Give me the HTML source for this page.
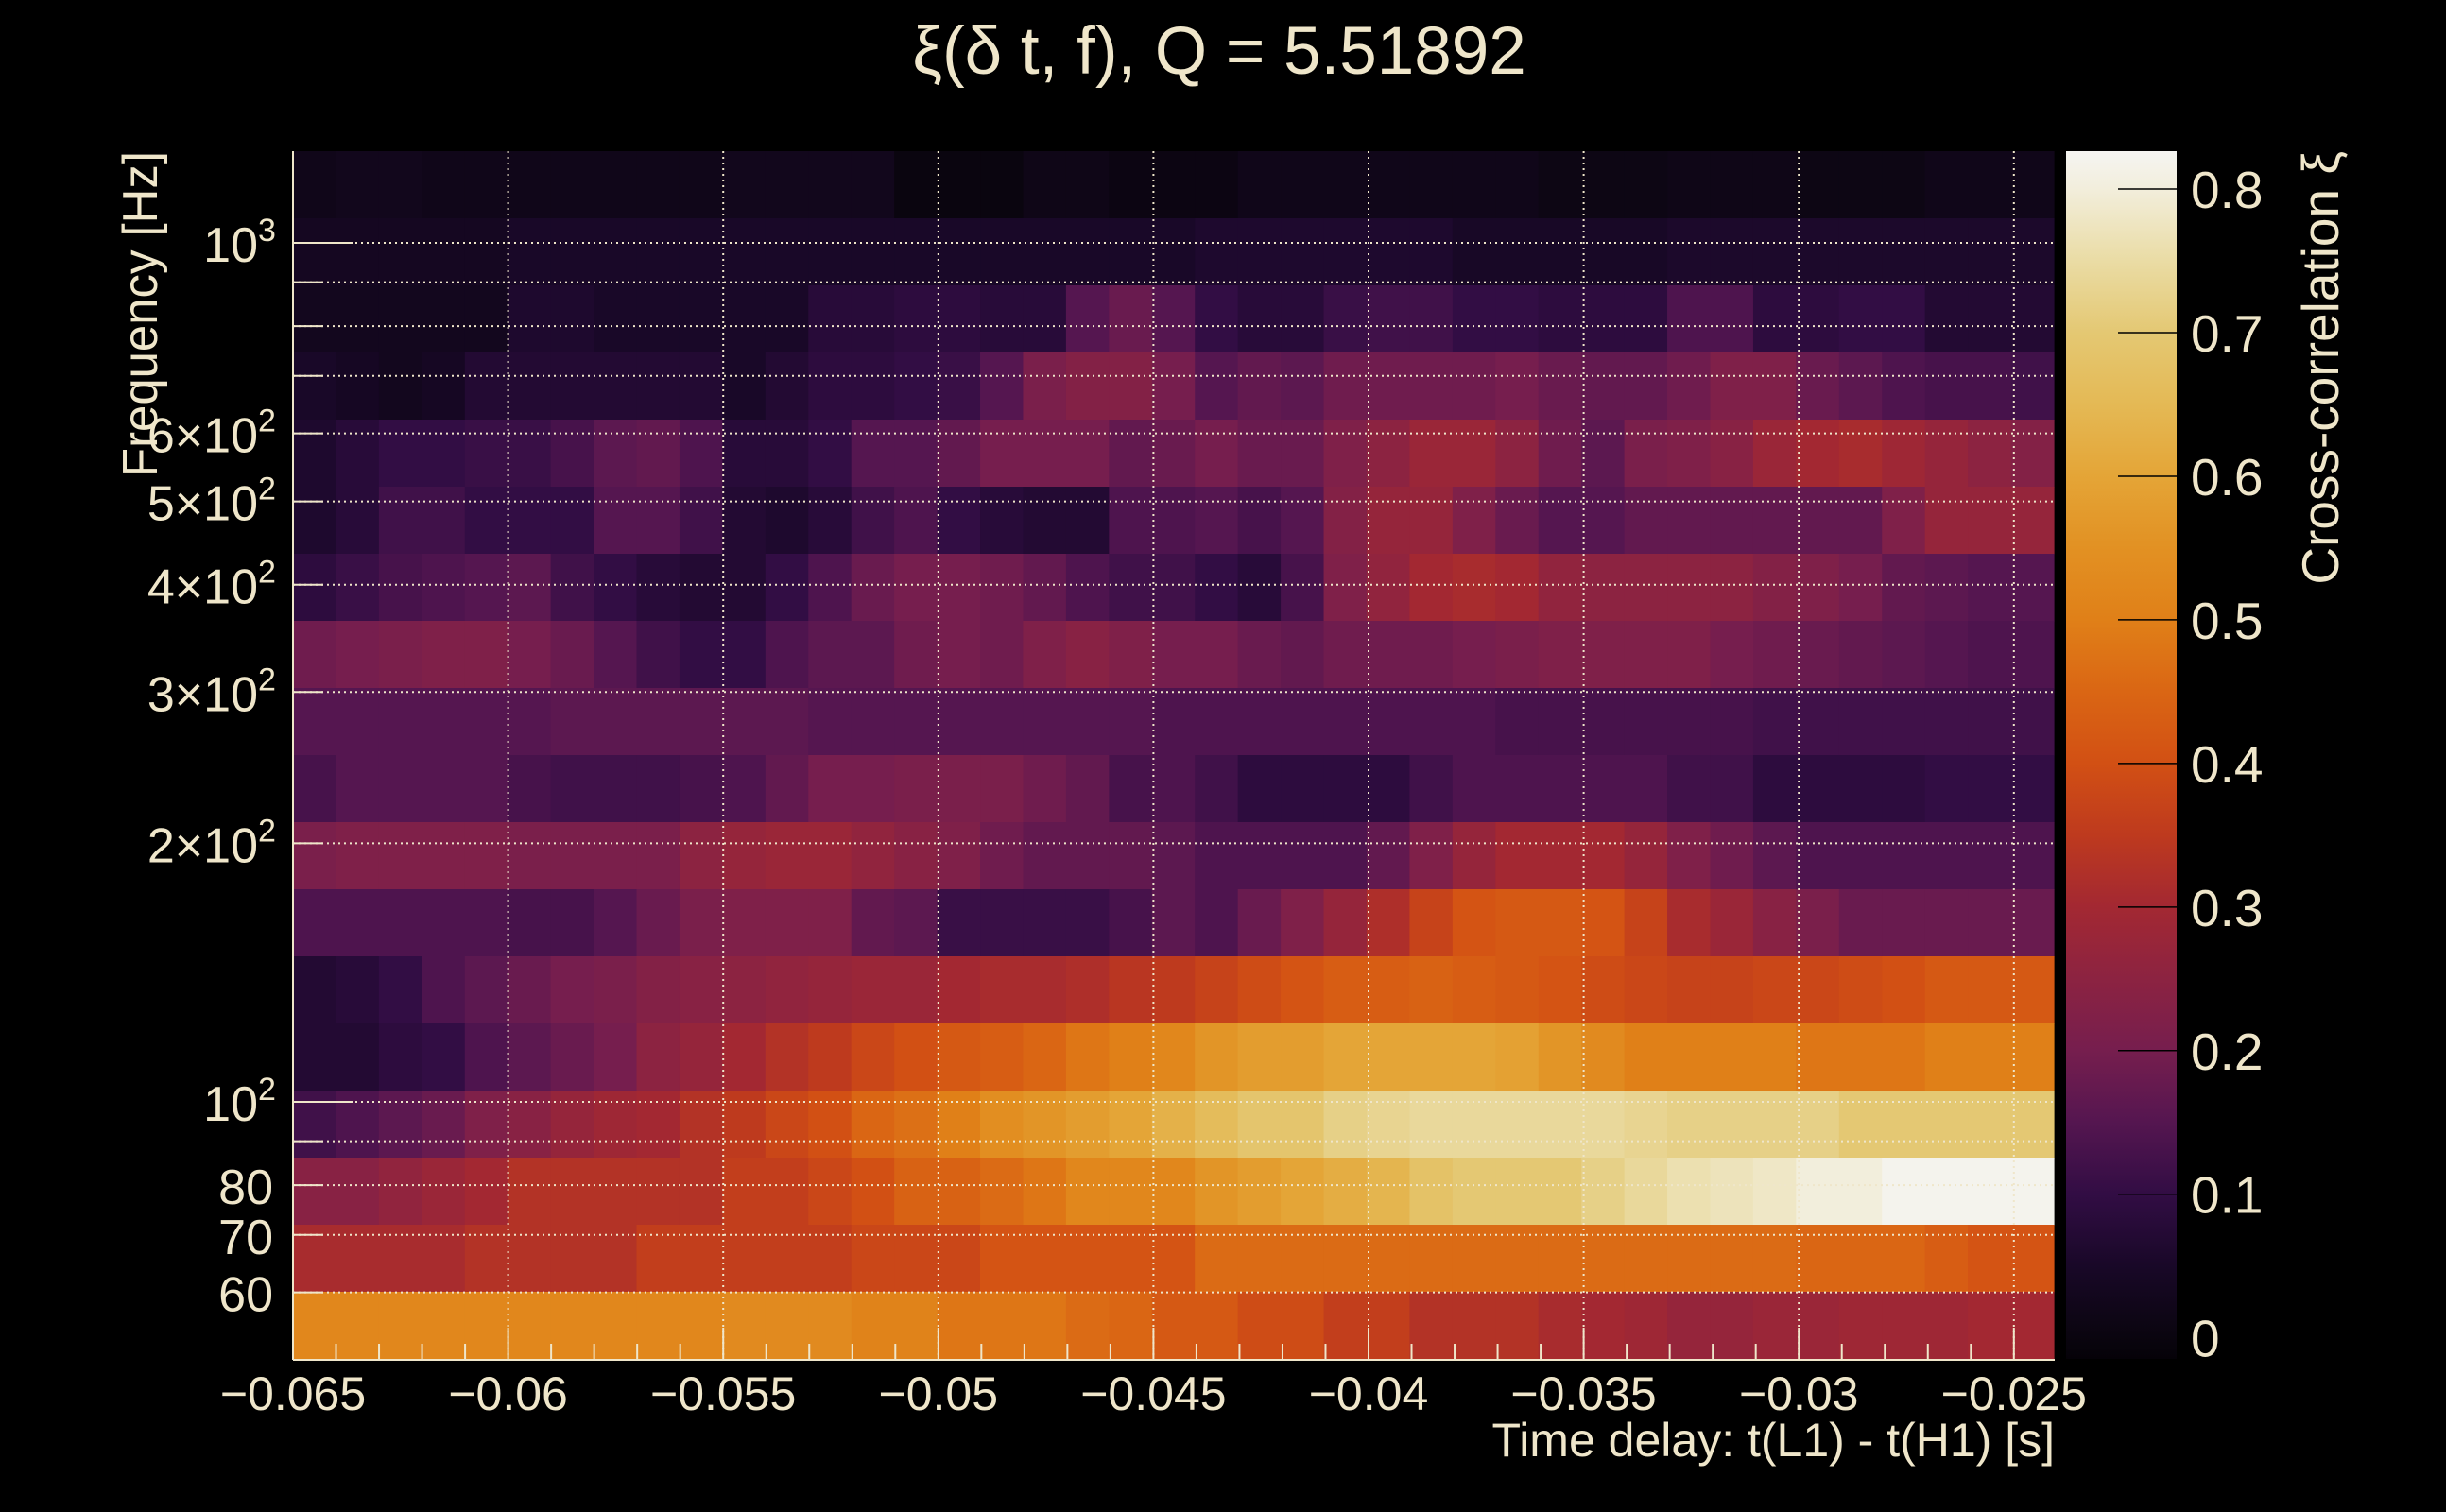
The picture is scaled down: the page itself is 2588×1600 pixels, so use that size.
<!DOCTYPE html>
<html><head><meta charset="utf-8"><style>
html,body{margin:0;padding:0;background:#000;}
svg{display:block}
text{font-family:"Liberation Sans",sans-serif;fill:#efe6ca}
</style></head><body>
<svg id="s" width="2588" height="1600" xmlns="http://www.w3.org/2000/svg">
<rect width="2588" height="1600" fill="#000"/>
<g id="cells"></g>
<g id="grid" stroke="#efe6ca" stroke-width="2" stroke-dasharray="2 4" fill="none"></g>
<g id="ticks" stroke="#efe6ca" stroke-width="2" fill="none"></g>
<defs><linearGradient id="cb" x1="0" y1="1" x2="0" y2="0"></linearGradient></defs>
<rect x="2186" y="160" width="117" height="1278" fill="url(#cb)"/>
<g id="cbt" stroke="#000" stroke-width="1.5"></g>
<text x="1290" y="78" font-size="71" text-anchor="middle">ξ(δ t, f), Q = 5.51892</text>
<text transform="translate(166,160) rotate(-90)" font-size="52" text-anchor="end" textLength="345" lengthAdjust="spacingAndGlyphs">Frequency [Hz]</text>
<text x="2174" y="1541" font-size="50" text-anchor="end">Time delay: t(L1) - t(H1) [s]</text>
<text transform="translate(2474,160) rotate(-90)" font-size="55" text-anchor="end">Cross-correlation ξ</text>
<g id="labels"></g>
</svg>
<script>
var NS="http://www.w3.org/2000/svg";
function el(p,t,a,txt){var e=document.createElementNS(NS,t);for(var k in a)e.setAttribute(k,a[k]);if(txt!==undefined)e.textContent=txt;p.appendChild(e);return e;}
var stops=[[-0.015,[5,2,8]],[0,[10,5,15]],[0.05,[25,8,40]],[0.1,[50,13,68]],[0.15,[85,22,80]],[0.2,[118,30,78]],[0.25,[140,35,65]],[0.3,[163,40,50]],[0.35,[190,58,30]],[0.4,[210,80,20]],[0.45,[218,102,20]],[0.5,[224,128,24]],[0.55,[226,145,35]],[0.6,[228,165,55]],[0.65,[228,185,85]],[0.7,[228,200,115]],[0.75,[234,220,165]],[0.8,[242,238,220]],[0.826,[245,245,242]]];
function col(v){if(v<=stops[0][0])return rgb(stops[0][1]);for(var i=1;i<stops.length;i++){if(v<=stops[i][0]){var a=stops[i-1],b=stops[i],f=(v-a[0])/(b[0]-a[0]);return rgb([0,1,2].map(function(j){return Math.round(a[1][j]+f*(b[1][j]-a[1][j]))}));}}return rgb(stops[stops.length-1][1]);}
function rgb(c){return "rgb("+c[0]+","+c[1]+","+c[2]+")";}
var g=document.getElementById("cb");
stops.forEach(function(s){el(g,"stop",{offset:((s[0]+0.015)/0.841).toFixed(4),"stop-color":rgb(s[1])});});
function fill(a){var r=[];for(var i=0;i<a.length;i+=2){for(var k=0;k<a[i+1];k++)r.push(a[i]);}while(r.length<41)r.push(r[r.length-1]);return r.slice(0,41);}
var R=[
fill([.02,1,.025,2,.02,4,.02,3,.025,4,0.0,3,.015,2,0.005,3,.02,4,.02,3,.01,3,.015,3,.01,3,.02,3]),
fill([.035,5,.05,8,.05,8,.06,6,.045,5,.055,9]),
[.03,.03,.03,.03,.03,.06,.06,.05,.05,.05,.05,.05,.08,.08,.09,.09,.08,.08,.15,.18,.15,.1,.08,.08,.11,.12,.12,.1,.1,.09,.09,.09,.14,.14,.09,.09,.1,.1,.07,.07,.07],
[.05,.04,.03,.04,.07,.07,.07,.07,.07,.07,.05,.07,.09,.09,.1,.11,.15,.21,.23,.23,.2,.15,.17,.16,.19,.19,.19,.19,.2,.18,.17,.17,.19,.22,.22,.18,.16,.14,.13,.13,.12],
[.06,.08,.1,.1,.11,.11,.13,.16,.17,.14,.08,.08,.1,.15,.15,.17,.2,.2,.2,.17,.18,.2,.18,.18,.22,.25,.28,.28,.25,.19,.16,.21,.22,.24,.28,.3,.31,.29,.27,.25,.23],
[.06,.08,.12,.12,.1,.1,.1,.15,.15,.12,.07,.06,.08,.12,.14,.1,.08,.07,.07,.14,.14,.15,.13,.15,.23,.27,.27,.22,.18,.15,.15,.17,.17,.17,.17,.17,.17,.22,.27,.27,.27],
[.09,.11,.13,.14,.15,.16,.12,.1,.08,.07,.07,.1,.14,.18,.2,.2,.19,.17,.14,.12,.12,.1,.08,.13,.22,.26,.3,.31,.3,.26,.25,.25,.25,.25,.23,.22,.2,.17,.16,.15,.15],
[.19,.2,.21,.22,.22,.2,.18,.15,.12,.1,.1,.14,.16,.16,.19,.2,.19,.22,.24,.22,.2,.2,.18,.17,.19,.19,.19,.2,.21,.22,.22,.22,.22,.2,.19,.18,.17,.16,.15,.14,.14],
fill([.15,6,.16,6,.15,8,.14,8,.13,6,.12,7]),
[.13,.15,.15,.15,.15,.13,.12,.12,.12,.13,.14,.17,.2,.2,.21,.21,.21,.19,.17,.13,.14,.14,.12,.09,.09,.09,.09,.12,.14,.14,.14,.14,.14,.12,.12,.09,.09,.09,.09,.1,.1],
[.21,.22,.22,.22,.22,.21,.21,.21,.21,.25,.27,.28,.28,.26,.24,.22,.19,.17,.17,.17,.16,.16,.14,.14,.14,.14,.17,.22,.27,.3,.3,.3,.27,.22,.19,.16,.14,.14,.14,.14,.14],
[.14,.14,.14,.14,.14,.13,.13,.15,.18,.21,.22,.22,.22,.17,.16,.11,.11,.11,.11,.13,.16,.12,.14,.18,.22,.27,.32,.37,.41,.42,.42,.41,.37,.31,.28,.24,.21,.18,.18,.18,.18],
[.07,.08,.1,.14,.16,.18,.2,.21,.23,.24,.25,.26,.27,.28,.28,.3,.31,.31,.32,.34,.35,.34,.37,.39,.41,.43,.43,.44,.43,.42,.41,.39,.38,.37,.37,.38,.38,.39,.4,.42,.42],
[.07,.07,.09,.1,.14,.16,.18,.2,.25,.27,.3,.33,.35,.38,.4,.42,.43,.45,.48,.5,.52,.53,.56,.58,.58,.6,.6,.6,.6,.59,.56,.53,.5,.5,.5,.5,.48,.48,.48,.5,.5],
[.12,.14,.16,.18,.22,.24,.27,.29,.3,.33,.35,.38,.4,.45,.47,.5,.54,.56,.58,.6,.63,.63,.66,.69,.69,.72,.72,.74,.74,.74,.74,.73,.72,.72,.7,.7,.7,.68,.68,.68,.68],
[.24,.24,.26,.28,.3,.33,.33,.33,.33,.33,.36,.36,.38,.4,.44,.44,.46,.48,.52,.52,.52,.55,.58,.58,.6,.62,.62,.65,.67,.68,.71,.74,.76,.76,.79,.79,.8,.82,.82,.82,.82],
fill([.31,4,.33,4,.36,5,.38,3,.41,5,.46,10,.45,8,.42,2]),
fill([.52,10,.53,3,.51,2,.48,3,.46,1,.45,1,.42,2,.39,2,.36,2,.33,3,.31,3,.28,3,.29,4,.3,2])
];
for(var r=9;r<18;r++){var a=R[r];R[r]=a.slice(0,21).concat(a.slice(22)).concat([a[40]]);}
R[14]=R[14].slice(0,20).concat([.63,.66,.69,.69,.72,.73,.74,.74,.74,.74,.74,.73,.72,.72,.72,.72,.7,.7,.7,.7,.7]);
R[15]=R[15].slice(0,21).concat([.56,.58,.6,.62,.64,.68,.7,.7,.7,.72,.74,.76,.77,.78,.8,.8,.82,.82,.82,.82]);
R[16]=R[16].slice(0,21).concat([.46,.46,.46,.46,.46,.46,.46,.46,.46,.46,.46,.46,.46,.46,.45,.45,.45,.43,.41,.41]);
R[17]=R[17].slice(0,21).concat([.42,.39,.39,.36,.36,.33,.33,.33,.31,.3,.29,.27,.27,.28,.28,.29,.29,.29,.3,.3]);
var cells=document.getElementById("cells");
var X0=310,CW=1863/41,Y0=160,RH=1278/18;
for(var r=0;r<18;r++)for(var c=0;c<41;c++){
 var x=X0+c*CW,y=Y0+r*RH;
 el(cells,"rect",{x:x.toFixed(2),y:y.toFixed(2),width:(CW+0.6).toFixed(2),height:(RH+0.6).toFixed(2),fill:col(R[r][c])});
}
function fy(f){return 1166-909*(Math.log10(f)-2);}
function tx(t){return 310+227.6*(t+0.065)/0.005;}
var grid=document.getElementById("grid"),ticks=document.getElementById("ticks"),lab=document.getElementById("labels");
var fr=[60,70,80,90,100,200,300,400,500,600,700,800,900,1000];
fr.forEach(function(f){var y=fy(f);el(grid,"line",{x1:310,y1:y,x2:2173,y2:y});
 var L=(f==100||f==1000)?63:32;el(ticks,"line",{x1:310,y1:y,x2:310+L,y2:y});});
var yl={60:"60",70:"70",80:"80",100:"10",200:"2×10",300:"3×10",400:"4×10",500:"5×10",600:"6×10",1000:"10"};
for(var f in yl){var y=fy(+f);var sup=(f==1000)?"3":(f>=100?"2":"");
 el(lab,"text",{x:(sup?273:289),y:(y+20).toFixed(1),"font-size":52,"text-anchor":"end"},yl[f]);
 if(sup)el(lab,"text",{x:273,y:(y-2).toFixed(1),"font-size":34},sup);}
for(var k=0;k<=8;k++){var x=tx(-0.065+0.005*k);el(grid,"line",{x1:x,y1:160,x2:x,y2:1438});}
for(var k=-1;k<=41;k++){var t=-0.065+0.001*k;var x=tx(t);if(x<309||x>2174)continue;
 var maj=(Math.round((t+0.065)*1000)%5==0);el(ticks,"line",{x1:x,y1:1439,x2:x,y2:maj?1405:1422});}
el(ticks,"line",{x1:310,y1:1439,x2:2174,y2:1439});
el(ticks,"line",{x1:310,y1:160,x2:310,y2:1439});
var xl=["−0.065","−0.06","−0.055","−0.05","−0.045","−0.04","−0.035","−0.03","−0.025"];
xl.forEach(function(s,k){el(lab,"text",{x:tx(-0.065+0.005*k),y:1492,"font-size":50,"text-anchor":"middle"},s);});
var cbt=document.getElementById("cbt");
for(var v=0;v<=8;v++){var y=1415.7-151.96*v;
 if(v>0)el(cbt,"line",{x1:2241,y1:y,x2:2303,y2:y});
 el(lab,"text",{x:2318,y:(y+20).toFixed(1),"font-size":55},v==0?"0":"0."+v);}
</script>
</body></html>
